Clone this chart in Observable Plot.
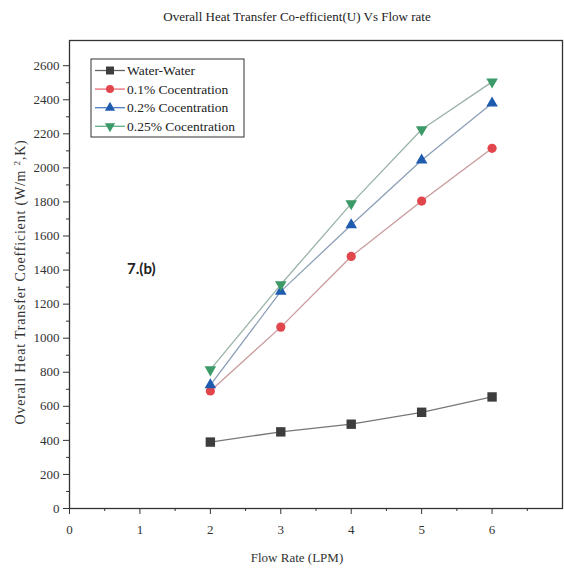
<!DOCTYPE html>
<html><head><meta charset="utf-8">
<script src="https://cdn.jsdelivr.net/npm/d3@7"></script>
<script src="https://cdn.jsdelivr.net/npm/@observablehq/plot@0.6"></script>
<style>body{margin:0;background:#fff}
g[aria-label$="tick label"], g[aria-label$="tick label"] text{font-size:13px !important;font-family:"Liberation Serif",serif}</style>
</head><body><div id="chart"></div>
<script>
const flowRates = [2, 3, 4, 5, 6];
const seriesNames = ["Water-Water", "0.1% Cocentration", "0.2% Cocentration", "0.25% Cocentration"];
const waterWater = [390, 450, 495, 565, 655];
const conc01 = [690, 1065, 1480, 1805, 2115];
const conc02 = [725, 1275, 1665, 2045, 2380];
const conc025 = [815, 1315, 1790, 2225, 2505];
const yTicks = d3.range(0, 2601, 200);
const xTicks = [0, 1, 2, 3, 4, 5, 6];
const titleText = "Overall Heat Transfer Co-efficient(U) Vs Flow rate";
const xLabel = "Flow Rate (LPM)";
const yLabel = "Overall Heat Transfer Coefficient (W/m";
const panelLabel = "7.(b)";

const colors = ["#3d3d3d", "#e0464c", "#1f5cb0", "#3b9a67"];
const lineColors = ["#777777", "#c99a9c", "#8c9fb8", "#9ab3a6"];
const symbols = ["square", "circle", "triangle", "triangle"];
const rotations = [0, 0, 0, 180];
const sizes = [5.3, 4.6, 4.3, 4.3];
const legendSizes = [4.5, 4, 3.8, 3.8];
const allValues = [waterWater, conc01, conc02, conc025];

const seriesData = allValues.map((vals, i) => vals.map((v, j) => ({series: seriesNames[i], x: flowRates[j], y: v})));

const W = 564, H = 575;
const plot = Plot.plot({
  width: W, height: H,
  marginLeft: 69, marginRight: 2, marginTop: 40, marginBottom: 67,
  style: {fontFamily: "Liberation Serif, serif", fontSize: "13px", color: "#333", background: "#fff"},
  x: {domain: [0, 7], axis: null},
  y: {domain: [0, 2748], axis: null},
  marks: [
    Plot.axisY({ticks: d3.range(100, 2700, 200), tickSize: 3, tickFormat: () => "", stroke: "#333", label: null}),
    Plot.axisY({ticks: yTicks, tickSize: 6, tickPadding: 4, tickFormat: d3.format("d"), stroke: "#333", fill: "#333", fontSize: 13, label: null}),
    Plot.axisX({ticks: d3.range(0.5, 7, 1), tickSize: 3, tickFormat: () => "", stroke: "#333", label: null}),
    Plot.axisX({ticks: xTicks, tickSize: 6, tickPadding: 10, tickFormat: d3.format("d"), stroke: "#333", fill: "#333", fontSize: 13, label: null}),
    Plot.frame({stroke: "#333", strokeWidth: 1.3}),
    ...seriesData.map((d, i) => Plot.line(d, {x: "x", y: "y", stroke: lineColors[i], strokeWidth: 1.3})),
    ...seriesData.map((d, i) => Plot.dot(d, {x: "x", y: "y", symbol: symbols[i], rotate: rotations[i], fill: colors[i], r: sizes[i], stroke: "none"}))
  ]
});
document.getElementById("chart").appendChild(plot);

const svg = d3.select(plot);
svg.selectAll('g[aria-label$="tick label"]').attr("font-size", 13);
svg.append("text").attr("x", 297).attr("y", 21).attr("text-anchor", "middle")
  .style("font-family", "Liberation Serif, serif").style("font-size", "13px").attr("fill", "#222").text(titleText);
svg.append("text").attr("x", 297).attr("y", 562).attr("text-anchor", "middle")
  .style("font-family", "Liberation Serif, serif").style("font-size", "13px").attr("fill", "#333").text(xLabel);
const yl = svg.append("text").attr("transform", "translate(25,282) rotate(-90)").attr("text-anchor", "middle")
  .style("font-family", "Liberation Serif, serif").style("font-size", "14px").style("letter-spacing", "0.8px").attr("fill", "#333");
yl.append("tspan").text(yLabel + " ");
yl.append("tspan").attr("dy", -5).style("font-size", "9px").text("2");
yl.append("tspan").attr("dy", 5).text(",K)");
svg.append("text").attr("x", 127).attr("y", 274).attr("text-anchor", "start")
  .style("font-family", "Lato, sans-serif").style("font-weight", "bold").style("font-size", "15px").attr("fill", "#222").text(panelLabel);

// legend
const lg = svg.append("g");
lg.append("rect").attr("x", 91).attr("y", 59).attr("width", 153).attr("height", 78)
  .attr("fill", "#fff").attr("stroke", "#333").attr("stroke-width", 1);
seriesNames.forEach((name, i) => {
  const cy = 70.5 + i * 18.6;
  lg.append("line").attr("x1", 95).attr("x2", 125).attr("y1", cy).attr("y2", cy)
    .attr("stroke", colors[i]).attr("stroke-width", 1.3).attr("stroke-opacity", 0.8);
  const sym = [d3.symbolSquare, d3.symbolCircle, d3.symbolTriangle, d3.symbolTriangle][i];
  const r = legendSizes[i];
  lg.append("path").attr("d", d3.symbol(sym, Math.PI * r * r)())
    .attr("transform", `translate(110,${cy}) rotate(${rotations[i]})`).attr("fill", colors[i]);
  lg.append("text").attr("x", 127).attr("y", cy + 4.5).attr("text-anchor", "start")
    .style("font-family", "Liberation Serif, serif").style("font-size", "13.5px").attr("fill", "#222").text(name);
});
</script>
</body></html>
